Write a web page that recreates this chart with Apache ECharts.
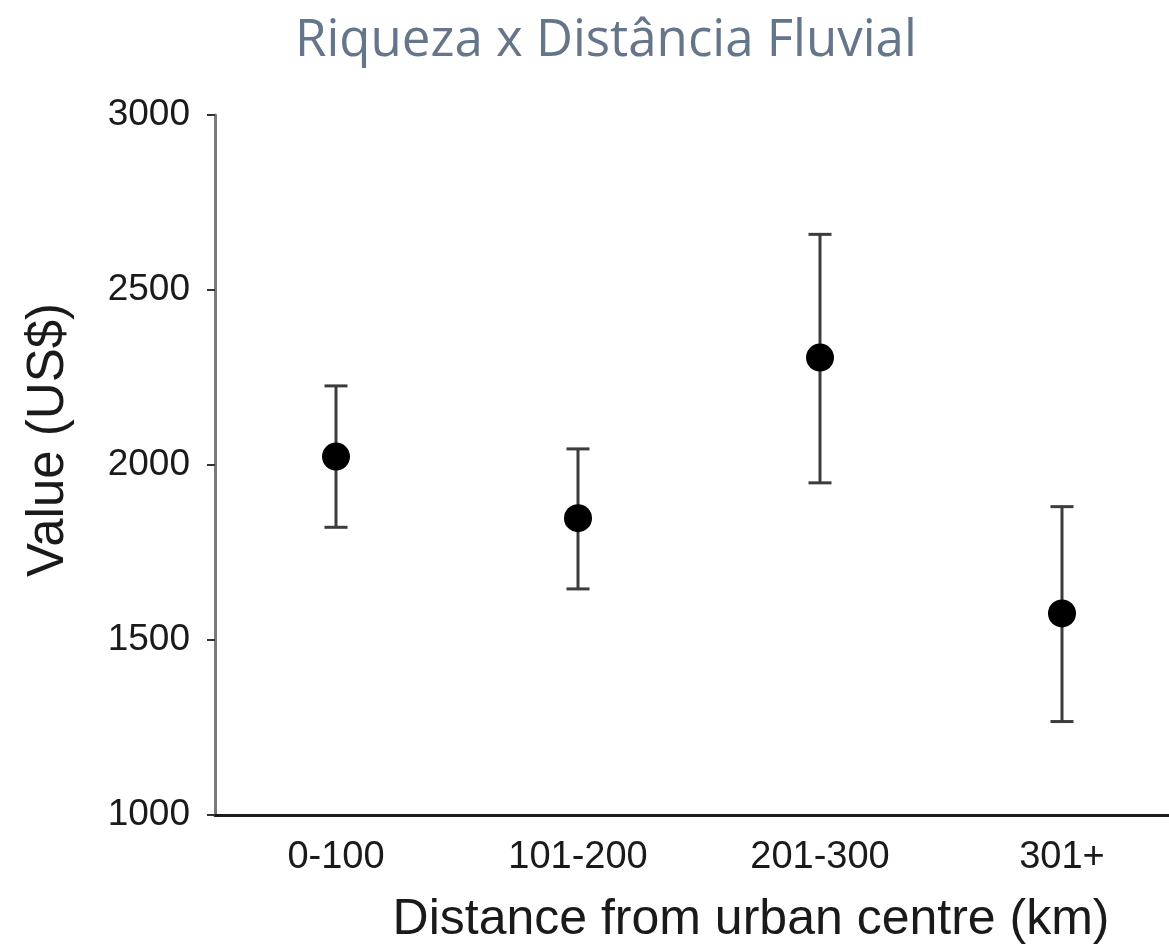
<!DOCTYPE html>
<html>
<head>
<meta charset="utf-8">
<script src="https://cdn.jsdelivr.net/npm/echarts@6/dist/echarts.min.js"></script>
<style>
  html, body { margin: 0; padding: 0; background: #fff; }
  #chartShow { width: 1169px; height: 946px; }
</style>
</head>
<body>
<div id="chartShow"></div>
<script>
var categories = ['0-100', '101-200', '201-300', '301+'];
var meanValue = [2024, 1848, 2307, 1576];
var upperValue = [2226, 2046, 2659, 1881];
var lowerValue = [1822, 1646, 1949, 1267];
var yTicks = [1000, 1500, 2000, 2500, 3000];

var errData = [];
for (var i = 0; i < categories.length; i++) {
    errData.push([i, lowerValue[i], upperValue[i]]);
}

var chartShow = echarts.init(document.getElementById('chartShow'));
var option = {
    backgroundColor: '#fff',
    animation: false,
    title: {
        text: 'Riqueza x Distância Fluvial',
        left: 290,
        top: 11,
        textStyle: {
            fontFamily: 'Open Sans',
            fontSize: 51,
            fontWeight: 'normal',
            color: '#66768a'
        }
    },
    grid: {
        left: 215,
        top: 115,
        right: -14,
        height: 700,
        containLabel: false,
        outerBoundsMode: 'none'
    },
    xAxis: {
        type: 'category',
        data: categories,
        boundaryGap: true,
        name: 'Distance from urban centre (km)',
        nameLocation: 'middle',
        nameGap: 80,
        nameTextStyle: {
            fontFamily: 'Liberation Sans',
            fontSize: 50,
            color: '#1a1a1a',
            padding: [0, 0, 0, 104]
        },
        axisLine: { lineStyle: { color: '#1a1a1a', width: 3 } },
        axisTick: { alignWithLabel: true, length: 7, lineStyle: { color: '#333', width: 2 } },
        axisLabel: {
            fontFamily: 'Liberation Sans',
            fontSize: 38,
            color: '#1a1a1a',
            margin: 24
        },
        splitLine: { show: false }
    },
    yAxis: {
        type: 'value',
        min: yTicks[0],
        max: yTicks[yTicks.length - 1],
        interval: 500,
        name: 'Value (US$)',
        nameLocation: 'middle',
        nameGap: 141,
        nameTextStyle: {
            fontFamily: 'Liberation Sans',
            fontSize: 51,
            color: '#1a1a1a',
            padding: [0, 0, 0, 50]
        },
        axisLine: { show: true, lineStyle: { color: '#7a7a7a', width: 3 } },
        axisTick: { show: true, length: 8, lineStyle: { color: '#333', width: 2 } },
        axisLabel: {
            fontFamily: 'Liberation Sans',
            fontSize: 37,
            color: '#1a1a1a',
            margin: 25,
            formatter: function (v) { return String(v); }
        },
        splitLine: { show: false }
    },
    series: [
        {
            name: 'error',
            type: 'custom',
            data: errData,
            z: 2,
            renderItem: function (params, api) {
                var x = api.value(0);
                var lo = api.coord([x, api.value(1)]);
                var hi = api.coord([x, api.value(2)]);
                var half = 11.5;
                var style = { stroke: '#3c3c3c', lineWidth: 3 };
                return {
                    type: 'group',
                    children: [
                        { type: 'line', shape: { x1: hi[0], y1: hi[1], x2: lo[0], y2: lo[1] }, style: style },
                        { type: 'line', shape: { x1: hi[0] - half, y1: hi[1], x2: hi[0] + half, y2: hi[1] }, style: style },
                        { type: 'line', shape: { x1: lo[0] - half, y1: lo[1], x2: lo[0] + half, y2: lo[1] }, style: style }
                    ]
                };
            }
        },
        {
            name: 'mean',
            type: 'scatter',
            data: meanValue,
            symbol: 'circle',
            symbolSize: 28,
            z: 3,
            itemStyle: { color: '#000', opacity: 1 }
        }
    ]
};
chartShow.setOption(option);
</script>
</body>
</html>
